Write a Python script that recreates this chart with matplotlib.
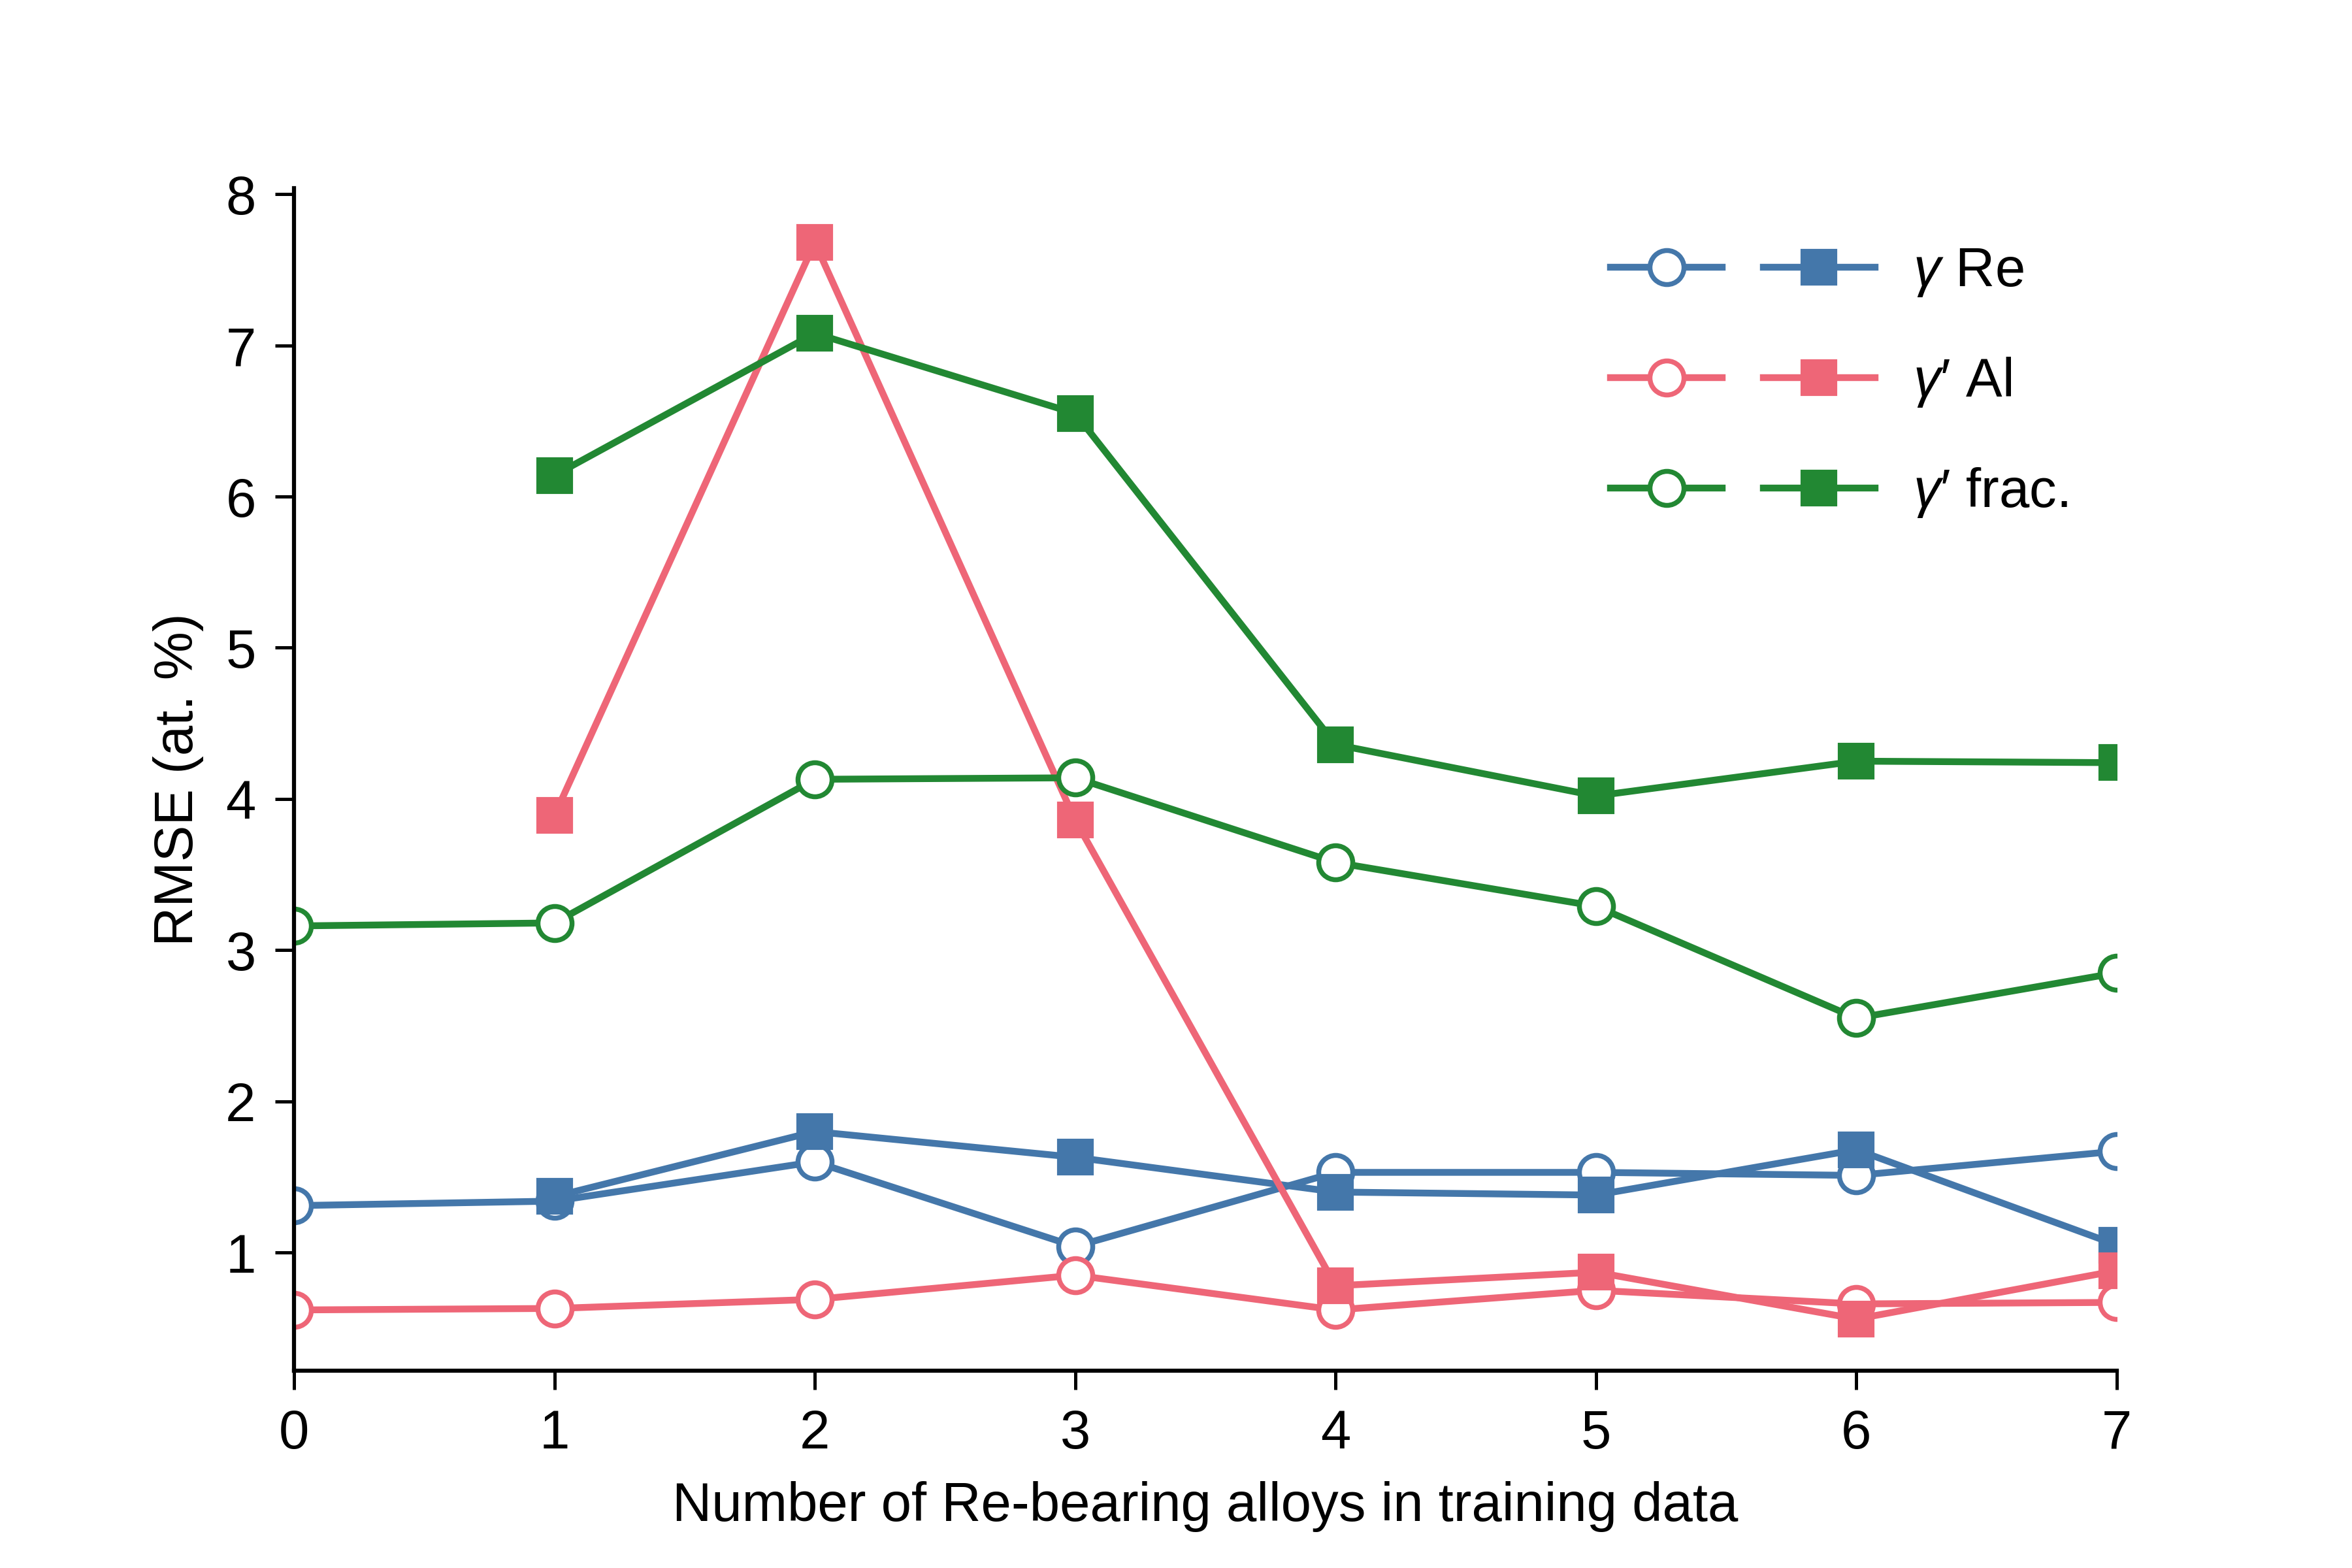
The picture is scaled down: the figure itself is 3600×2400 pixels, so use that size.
import matplotlib
matplotlib.use("Agg")
from matplotlib import pyplot as plt
from matplotlib.legend_handler import HandlerTuple

plt.rcParams['font.family'] = ['Liberation Sans', 'DejaVu Sans']
plt.rcParams['mathtext.fontset'] = 'custom'
plt.rcParams['mathtext.rm'] = 'Liberation Sans'
plt.rcParams['mathtext.it'] = 'Liberation Sans:italic'
plt.rcParams['font.size'] = 20

n_re = [0, 1, 2, 3, 4, 5, 6, 7]
n_re_sq = [1, 2, 3, 4, 5, 6, 7]

# open circles / filled squares for each quantity
re_circ = [1.31, 1.34, 1.60, 1.04, 1.53, 1.53, 1.51, 1.67]
re_sq = [1.37, 1.80, 1.63, 1.40, 1.38, 1.68, 1.05]
al_circ = [0.62, 0.63, 0.69, 0.85, 0.62, 0.75, 0.66, 0.67]
al_sq = [3.89, 7.68, 3.86, 0.78, 0.87, 0.56, 0.88]
frac_circ = [3.16, 3.18, 4.13, 4.14, 3.58, 3.29, 2.55, 2.85]
frac_sq = [6.14, 7.08, 6.55, 4.36, 4.02, 4.25, 4.24]

labels = [r'$\mathit{γ}$ Re', r"$\mathit{γ′}$ Al", r"$\mathit{γ′}$ frac."]
colors = ['#4477AA', '#EE6677', '#228833']

fig = plt.figure(figsize=[12, 8], dpi=300)
ax = fig.add_axes([0.125, 0.126, 0.775, 0.754])

handles = []
for circ, sq, c in zip([re_circ, al_circ, frac_circ], [re_sq, al_sq, frac_sq], colors):
    h1, = ax.plot(n_re, circ, '-o', color=c, lw=2.5, ms=12.5, mfc='white', mec=c, mew=1.8)
    h2, = ax.plot(n_re_sq, sq, '-s', color=c, lw=2.5, ms=12.5, mfc=c, mec=c)
    handles.append((h1, h2))

ax.legend(handles, labels, handler_map={tuple: HandlerTuple(ndivide=None, pad=0.75)},
          frameon=False, handlelength=4.85, handletextpad=0.7, labelspacing=1.04,
          loc='upper right', bbox_to_anchor=(1.0, 0.992), fontsize=20)

ax.set_xlim(0, 7)
ax.set_ylim(0.22, 8.04)
ax.set_xticks(range(8))
ax.set_yticks(range(1, 9))
ax.spines['top'].set_visible(False)
ax.spines['right'].set_visible(False)
ax.spines['left'].set_linewidth(1.5)
ax.spines['bottom'].set_linewidth(1.5)
ax.tick_params(direction='out', length=7, width=1.2, labelsize=20, pad=7)
ax.set_xlabel("Number of Re-bearing alloys in training data", fontsize=20, labelpad=8)
ax.set_ylabel("RMSE (at. %)", fontsize=20, labelpad=8)

plt.savefig("out.png", dpi=300)
